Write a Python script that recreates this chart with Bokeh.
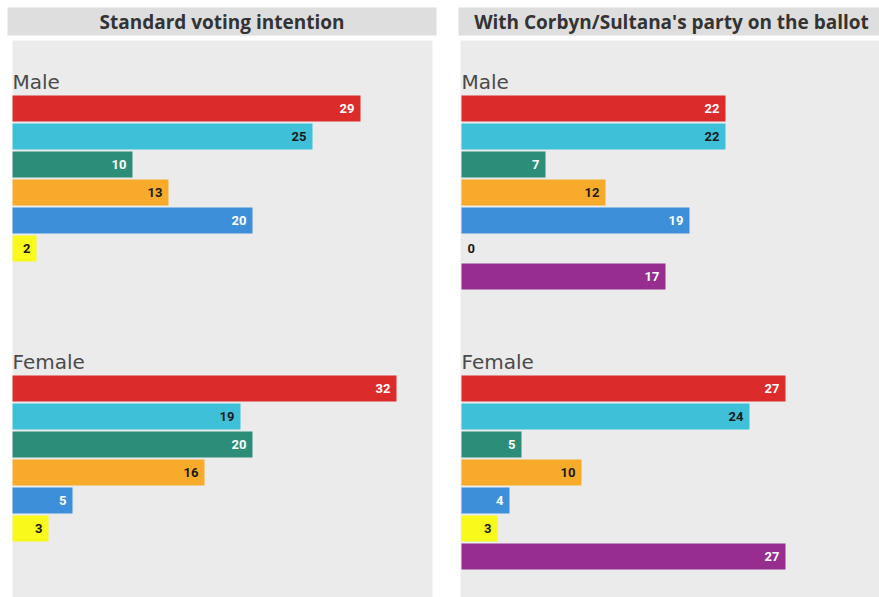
from bokeh.plotting import figure
from bokeh.layouts import row
from bokeh.models import ColumnDataSource, Range1d, BoxAnnotation, Label
from bokeh.embed import file_html
from bokeh.resources import INLINE
from bokeh.core.properties import value

# ---- data ----
parties = ["Labour", "Reform UK", "Green", "Lib Dem", "Conservative", "SNP", "Corbyn/Sultana"]
party_colors = ["#dc2b2b", "#3ec1d8", "#2c8e78", "#f8ab2a", "#3d8fd9", "#f9f91c", "#962d8f"]
value_label_colors = ["#ffffff", "#1a1a1a", "#ffffff", "#1a1a1a", "#ffffff", "#1a1a1a", "#ffffff"]
groups = ["Male", "Female"]
panel_titles = ["Standard voting intention", "With Corbyn/Sultana's party on the ballot"]
standard_male = [29, 25, 10, 13, 20, 2]
standard_female = [32, 19, 20, 16, 5, 3]
corbyn_male = [22, 22, 7, 12, 19, 0, 17]
corbyn_female = [27, 24, 5, 10, 4, 3, 27]

# ---- layout constants (pixels) ----
PX = 12.0        # pixels per percentage point
ROW = 28.0       # pixels per row
FIG_H = 597
Y0 = 80.0        # pixel of row 0 (first group label)
GROUP_ROW = [0, 10]
BAR_H = 0.92

FONT_GROUP = value("DejaVu Sans")
FONT_VAL = value("Roboto")


def make_panel(title, series, width, x0, panel_l, panel_r, head_l, head_r, head_cx):
    def xd(px):
        return (px - x0) / PX

    def yd(py):
        return -(py - Y0) / ROW

    p = figure(width=width, height=FIG_H,
               x_range=Range1d(xd(0), xd(width)),
               y_range=Range1d(yd(FIG_H), yd(0)),
               output_backend="svg", toolbar_location=None, min_border=0,
               x_axis_location=None, y_axis_location=None,
               background_fill_color="white", border_fill_color="white",
               outline_line_color=None)
    p.grid.visible = False

    # panel background and header band
    p.add_layout(BoxAnnotation(left=xd(panel_l), right=xd(panel_r), top=yd(40), bottom=yd(FIG_H + 20),
                               fill_color="#ebebeb", fill_alpha=1, line_color=None, level="underlay"))
    p.add_layout(BoxAnnotation(left=xd(head_l), right=xd(head_r),
                               top=yd(7), bottom=yd(35),
                               fill_color="#dedede", fill_alpha=1, line_color=None, level="underlay"))
    p.add_layout(Label(x=xd(head_cx), y=yd(21), text=title, text_align="center", text_baseline="middle",
                       text_font="Open Sans", text_font_style="bold", text_font_size="19px",
                       text_color="#333333"))

    for g, vals in enumerate(series):
        grow = GROUP_ROW[g]
        n = len(vals)
        rows = [-(grow + 1 + i) for i in range(n)]
        src = ColumnDataSource(dict(y=rows, v=vals, color=party_colors[:n]))
        p.hbar(y="y", left=0, right="v", height=BAR_H, fill_color="color", line_color=None, source=src)

        nz = [i for i in range(n) if vals[i] > 0]
        z = [i for i in range(n) if vals[i] == 0]
        src_nz = ColumnDataSource(dict(x=[vals[i] for i in nz], y=[rows[i] for i in nz],
                                       t=[str(vals[i]) for i in nz],
                                       c=[value_label_colors[i] for i in nz]))
        p.text(x="x", y="y", text="t", text_color="c", source=src_nz, text_align="right",
               text_baseline="middle", x_offset=-6, text_font=FONT_VAL, text_font_style="bold",
               text_font_size="13px")
        if z:
            src_z = ColumnDataSource(dict(x=[vals[i] for i in z], y=[rows[i] for i in z],
                                          t=[str(vals[i]) for i in z]))
            p.text(x="x", y="y", text="t", text_color="#1a1a1a", source=src_z, text_align="left",
                   text_baseline="middle", x_offset=6, text_font=FONT_VAL, text_font_style="bold",
                   text_font_size="13px")

        p.text(x=[0], y=[-(grow + 1.5 / ROW)], text=[groups[g]], text_align="left",
               text_baseline="middle", text_font=FONT_GROUP, text_font_size="20px",
               text_color="#4a4a4a")
    return p


left = make_panel(panel_titles[0], [standard_male, standard_female], 448, 12, 12, 432, 7, 436, 221.5)
right = make_panel(panel_titles[1], [corbyn_male, corbyn_female], 431, 13, 12, 460, 10, 460, 223)

layout = row(left, right, spacing=0)
open("out.html", "w").write(file_html(layout, INLINE))
